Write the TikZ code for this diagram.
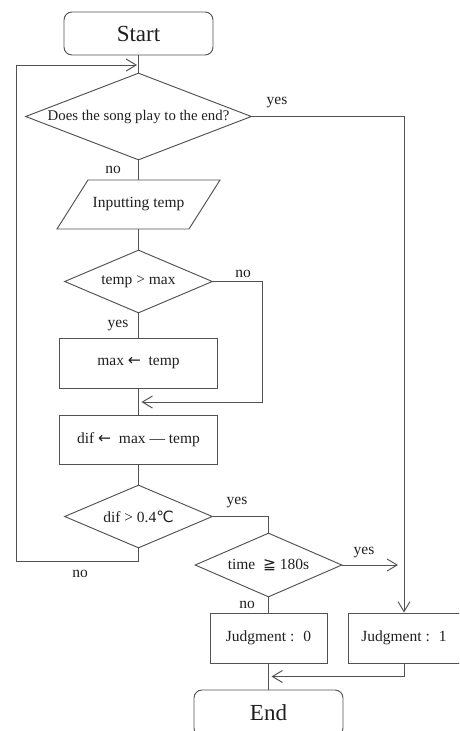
\documentclass[tikz,border=0pt]{standalone}
\usepackage{fontspec}
\setmainfont{Liberation Serif}
\newfontfamily\symf{DejaVu Sans}
\usetikzlibrary{shapes.geometric,arrows.meta,calc}
\begin{document}
\begin{tikzpicture}[x=1pt,y=-1pt,
  ln/.style={draw=black!68, line width=0.95pt},
  arr/.style={ln, -{Straight Barb[length=10pt,width=12pt,line width=0.95pt]}},
  every node/.style={font=\fontsize{15.5}{17}\selectfont, text=black!88},
  term/.style={ln, rounded corners=8pt, minimum width=149pt, minimum height=43pt, inner sep=0pt, font=\fontsize{23}{26}\selectfont},
  proc/.style={ln, minimum height=50pt, inner sep=0pt},
  dec/.style={ln, diamond, inner sep=0pt},
  lab/.style={font=\fontsize{15.5}{17}\selectfont, inner sep=0pt, anchor=base}
]
\useasboundingbox (0,0) rectangle (459,731);
\clip (0,0) rectangle (459,731);

% nodes
\node[term] (start) at (138.5,33.5) {Start};
\node[dec, minimum width=226pt, minimum height=87pt, shape aspect=2.6, font=\fontsize{14.8}{16}\selectfont] (d1) at (138.5,116.5) {Does the song play to the end?};
\node[minimum width=130pt, minimum height=49pt, inner sep=0pt] (inp) at (138.5,204.5) {Inputting temp};
\draw[ln] (88,180) -- (220,180) -- (189,229) -- (57,229) -- cycle;
\node[dec, minimum width=148pt, minimum height=63pt, shape aspect=2.35] (d2) at (138.5,281.5) {temp > max};
\node[proc, minimum width=158pt] (b1) at (138.5,363) {max {\symf ←}\ \ temp};
\node[proc, minimum width=158pt, minimum height=49pt] (b2) at (138.5,439.5) {dif {\symf ←}\ \ max — temp};
\node[dec, minimum width=148pt, minimum height=63pt, shape aspect=2.35] (d3) at (138.5,516.5) {dif > 0.4{\symf ℃}};
\node[dec, minimum width=147pt, minimum height=64pt, shape aspect=2.3] (d4) at (268.5,565) {time\ \ {\symf ≧} 180s};
\node[proc, minimum width=117pt] (j0) at (268.5,638) {Judgment : \ 0};
\node[proc, minimum width=112pt] (j1) at (404,638) {Judgment : \ 1};
\node[term, minimum height=46pt] (end) at (268.5,713) {End};

% coordinates
\coordinate (loopB) at (138.5,561);
\coordinate (loopT) at (138.5,65);
\coordinate (m1) at (138.5,402);
\coordinate (yesend) at (398,565);
\coordinate (m2) at ($(j0.south)!0.5!(end.north)$);

% connectors
\draw[ln] (start.south) -- (d1.north);
\draw[ln] (d1.south) -- (inp.north);
\draw[ln] (inp.south) -- (d2.north);
\draw[ln] (d2.south) -- (b1.north);
\draw[ln] (b1.south) -- (b2.north);
\draw[ln] (b2.south) -- (d3.north);
\draw[ln] (d4.south) -- (j0.north);
\draw[ln] (j0.south) -- (end.north);
\draw[arr, shorten >=1.5pt] (d3.south) -- (loopB) -- (16,561) -- (16,65) -- (loopT);
\draw[arr] (d1.east) -| (j1.north);
\draw[arr, shorten >=3pt] (d2.east) -- (262,281.5) -- (262,402) -- (m1);
\draw[ln] (d3.east) -| (d4.north);
\draw[arr] (d4.east) -- (yesend);
\draw[arr, shorten >=3pt] (j1.south) |- (m2);

% labels
\node[lab] (l1) at (277,104) {yes};
\node[lab] (l2) at (113,173) {no};
\node[lab] (l3) at (243,277) {no};
\node[lab] (l4) at (118,327) {yes};
\node[lab] (l5) at (237,504) {yes};
\node[lab] (l6) at (80,577) {no};
\node[lab] (l7) at (364,554) {yes};
\node[lab] (l8) at (247,608) {no};
\end{tikzpicture}
\end{document}
